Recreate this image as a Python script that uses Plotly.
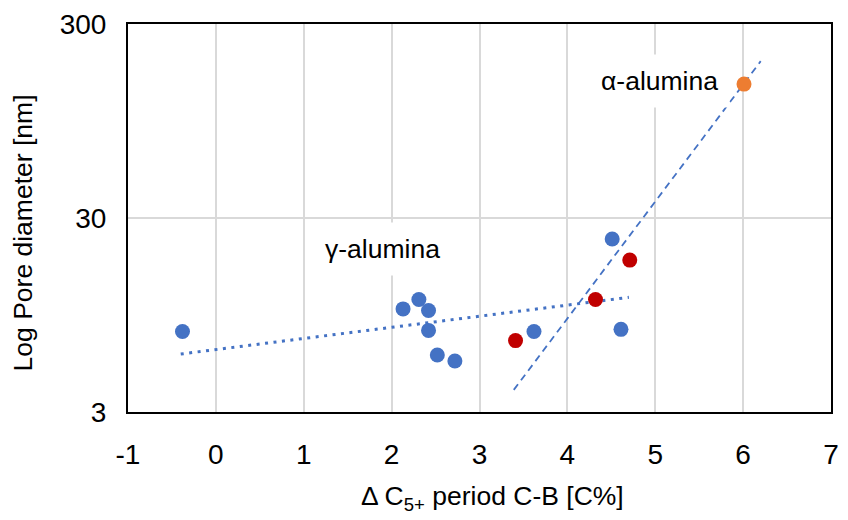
import plotly.graph_objects as go

# gamma-alumina samples
gamma_x = [-0.38, 2.13, 2.31, 2.42, 2.42, 2.52, 2.72, 3.62, 4.51, 4.61]
gamma_y = [7.8, 10.2, 11.4, 10.0, 7.9, 5.9, 5.5, 7.8, 23.4, 8.0]

# highlighted gamma-alumina samples
red_x = [3.41, 4.32, 4.71]
red_y = [7.0, 11.4, 18.2]

# alpha-alumina sample
alpha_x = [6.01]
alpha_y = [147]

# trend lines (start / end)
trend_gamma_x = [-0.40, 4.70]
trend_gamma_y = [5.97, 11.7]
trend_alpha_x = [3.39, 6.20]
trend_alpha_y = [3.9, 193]

x_ticks = [-1, 0, 1, 2, 3, 4, 5, 6, 7]
y_ticks = [3, 30, 300]

BLUE = "#4472C4"
RED = "#C00000"
ORANGE = "#ED7D31"
FONT = "Liberation Sans, Arial, sans-serif"
TEXT_SIZE = 26.5
TICK_SIZE = 28

fig = go.Figure()

fig.add_trace(go.Scatter(
    x=trend_gamma_x, y=trend_gamma_y, mode="lines",
    line=dict(color=BLUE, width=3, dash="3px,5.5px"), hoverinfo="skip"))
fig.add_trace(go.Scatter(
    x=trend_alpha_x, y=trend_alpha_y, mode="lines",
    line=dict(color=BLUE, width=1.8, dash="7px,5px"), hoverinfo="skip"))

fig.add_trace(go.Scatter(
    x=gamma_x, y=gamma_y, mode="markers",
    marker=dict(color=BLUE, size=15, line=dict(width=0))))
fig.add_trace(go.Scatter(
    x=red_x, y=red_y, mode="markers",
    marker=dict(color=RED, size=15, line=dict(width=0))))
fig.add_trace(go.Scatter(
    x=alpha_x, y=alpha_y, mode="markers",
    marker=dict(color=ORANGE, size=15, line=dict(width=0))))

fig.add_annotation(x=5.05, y=2.183, xref="x", yref="y", text="α-alumina",
                   showarrow=False, bgcolor="white", borderpad=11,
                   font=dict(size=TEXT_SIZE, color="#000000", family=FONT))
fig.add_annotation(x=1.90, y=1.318, xref="x", yref="y", text="γ-alumina",
                   showarrow=False, bgcolor="white", borderpad=11,
                   font=dict(size=TEXT_SIZE, color="#000000", family=FONT))

W, H = 848, 520
ML, MR, MT, MB = 128, 9, 17, 108


def px_to_paper(px, py):
    return (px - ML) / (W - ML - MR), 1 - (py - MT) / (H - MT - MB)


# axis titles
tx, ty = px_to_paper(497, 500)
fig.add_annotation(x=tx, y=ty, xref="paper", yref="paper",
                   xanchor="center", yanchor="middle",
                   text="Δ C<sub>5+</sub> period C-B [C%]", showarrow=False,
                   font=dict(size=TEXT_SIZE, color="#000000", family=FONT))
tx, ty = px_to_paper(22, 230)
fig.add_annotation(x=tx, y=ty, xref="paper", yref="paper",
                   xanchor="center", yanchor="middle",
                   text="Log Pore diameter [nm]", textangle=-90, showarrow=False,
                   font=dict(size=TEXT_SIZE, color="#000000", family=FONT))

fig.update_layout(
    width=W, height=H,
    margin=dict(l=ML, r=MR, t=MT, b=MB, pad=0),
    paper_bgcolor="white", plot_bgcolor="white",
    showlegend=False,
    font=dict(family=FONT, size=TEXT_SIZE, color="#000000"),
)
fig.update_xaxes(
    range=[-1, 7], tickvals=x_ticks, ticktext=[str(v) for v in x_ticks],
    showgrid=True, gridcolor="#D9D9D9", gridwidth=2,
    showline=True, linecolor="#000000", linewidth=2, mirror=True,
    zeroline=False, ticks="", ticklabelstandoff=16,
    tickfont=dict(size=TICK_SIZE, family=FONT, color="#000000"),
)
fig.update_yaxes(
    type="log", range=[0.47712, 2.47712],
    tickvals=y_ticks, ticktext=[str(v) for v in y_ticks],
    showgrid=True, gridcolor="#D9D9D9", gridwidth=2,
    showline=True, linecolor="#000000", linewidth=2, mirror=True,
    zeroline=False, ticks="", ticklabelstandoff=14,
    tickfont=dict(size=TICK_SIZE, family=FONT, color="#000000"),
)

fig.write_html("out.html")
